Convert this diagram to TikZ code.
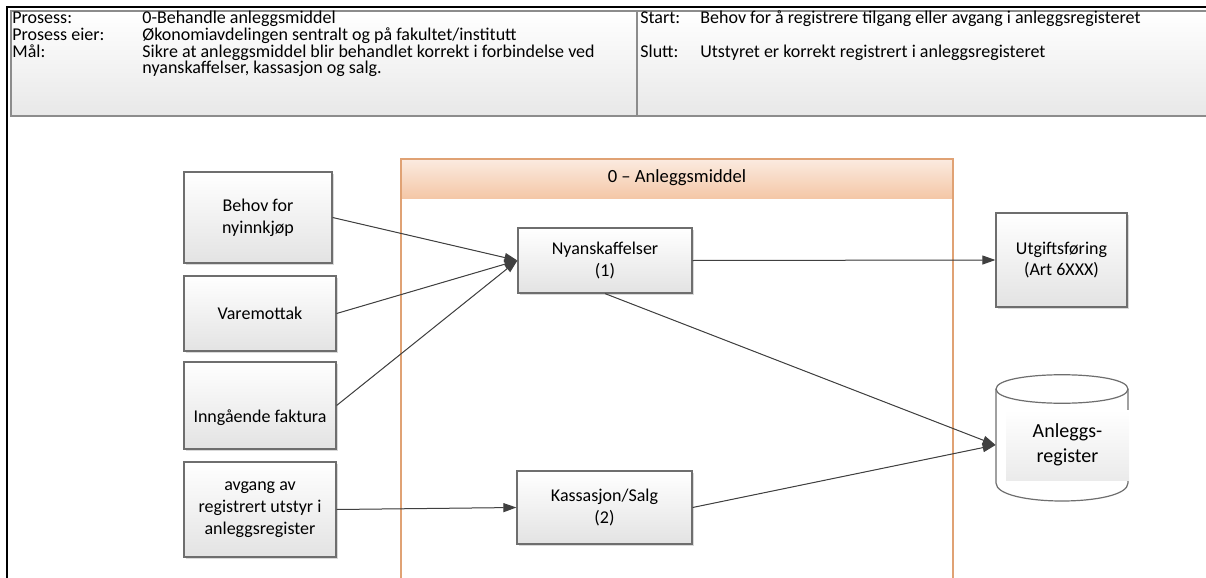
\documentclass[tikz,border=0pt]{standalone}
\usepackage{fontspec}
\setmainfont{Carlito}
\usetikzlibrary{arrows.meta,shadows}
\definecolor{linegray}{HTML}{404040}
\definecolor{boxline}{HTML}{6E6E6E}
\definecolor{headline}{HTML}{8C8C8C}
\definecolor{poolline}{HTML}{E0A274}
\definecolor{pooltop}{HTML}{FBEBE0}
\definecolor{poolbot}{HTML}{F4C7A7}
\tikzset{>={Triangle[length=6.5pt,width=4.5pt]}}
\tikzset{
  procbox/.style={draw=boxline, line width=0.6pt, top color=white, bottom color=black!11,
    align=center, inner sep=0pt, font=\fontsize{9}{10.9}\selectfont,
    drop shadow={shadow xshift=1pt, shadow yshift=-1pt, fill=black, opacity=0.15}},
  headtext/.style={anchor=base west, inner sep=0pt, font=\fontsize{9}{10}\selectfont},
  flow/.style={->, draw=linegray, fill=linegray, line width=0.5pt}
}

\begin{document}
\begin{tikzpicture}[x=0.5pt, y=-0.5pt]
    \useasboundingbox (0,0) rectangle (1206,578);

    % header
    \shade [top color=white, bottom color=black!9] (11,11) rectangle (1206,116);
    \draw [headline, line width=0.75pt] (1206,11) -- (11,11) -- (11,116) -- (1206,116);
    \draw [headline, line width=0.75pt] (637,11) -- (637,116);
    \draw [black, line width=1pt] (7,578) -- (7,7) -- (1206,7);

    \node [headtext] (proslab) at (12,24) {Prosess:};
    \node [headtext] (prosval) at (142,24) {0-Behandle anleggsmiddel};
    \node [headtext] (eierlab) at (12,40.5) {Prosess eier:};
    \node [headtext] (eierval) at (142,40.5) {Økonomiavdelingen sentralt og på fakultet/institutt};
    \node [headtext] (maallab) at (12,57) {Mål:};
    \node [headtext] (maalval) at (142,57) {Sikre at anleggsmiddel blir behandlet korrekt i forbindelse ved};
    \node [headtext] (maalval2) at (142,73.5) {nyanskaffelser, kassasjon og salg.};
    \node [headtext] (startlab) at (640,24) {Start:};
    \node [headtext] (startval) at (700,24) {Behov for å registrere tilgang eller avgang i anleggsregisteret};
    \node [headtext] (sluttlab) at (640,57) {Slutt:};
    \node [headtext] (sluttval) at (700,57) {Utstyret er korrekt registrert i anleggsregisteret};

    % pool
    \shade [top color=pooltop, bottom color=poolbot] (401,159) rectangle (953,198);
    \draw [poolline, line width=0.75pt] (401,578) -- (401,159) -- (953,159) -- (953,578);
    \node [font=\fontsize{9.3}{11}\selectfont] (pool) at (677,178) {0 -- Anleggsmiddel};

    % boxes
    \node [procbox, minimum width=74pt, minimum height=45.5pt] (behov) at (258,217.5) {Behov for\\nyinnkjøp};
    \node [procbox, minimum width=76pt, minimum height=37.5pt] (varemottak) at (260,313.5) {Varemottak};
    \node [procbox, minimum width=76pt, minimum height=43.5pt] (faktura) at (260,405.5) {};
    \node [font=\fontsize{9}{10.9}\selectfont] (fakturatext) at (260,418) {Inngående faktura};
    \node [procbox, minimum width=76pt, minimum height=47.5pt] (avgang) at (260,509.5) {avgang av\\registrert utstyr i\\anleggsregister};
    \node [procbox, minimum width=87pt, minimum height=32.5pt] (nyans) at (605,260.5) {Nyanskaffelser\\(1)};
    \node [procbox, minimum width=87.5pt, minimum height=36.5pt] (kassasjon) at (604.5,507.5) {Kassasjon/Salg\\(2)};
    \node [procbox, minimum width=65.5pt, minimum height=47pt] (utgift) at (1061.5,260) {Utgiftsføring\\(Art 6XXX)};

    % register (cylinder)
    \draw [boxline, fill=white, line width=0.6pt] (996,389) .. controls (996,370) and (1128,370) .. (1128,389)
        -- (1128,483) .. controls (1128,507) and (996,507) .. (996,483) -- cycle;
    \draw [boxline, line width=0.6pt] (996,389) .. controls (996,408) and (1128,408) .. (1128,389);
    \node [minimum width=66pt, minimum height=35pt, inner sep=0pt] (register) at (1062,445) {};
    \node [top color=white, bottom color=black!8, minimum width=61.5pt, minimum height=35pt, inner sep=0pt,
        align=center, font=\fontsize{10}{12.5}\selectfont] (registertext) at (1067.5,445) {Anleggs-\\register};

    % flows
    \draw [flow] (behov.east) -- (nyans.west);
    \draw [flow] (varemottak.east) -- (nyans.west);
    \draw [flow] (faktura.east) -- (nyans.west);
    \draw [flow] (avgang.east) -- (kassasjon.west);
    \draw [flow] (nyans.east) -- (utgift.west);
    \draw [flow] (nyans.south) -- (register.west);
    \draw [flow] (kassasjon.east) -- (register.west);
\end{tikzpicture}
\end{document}
